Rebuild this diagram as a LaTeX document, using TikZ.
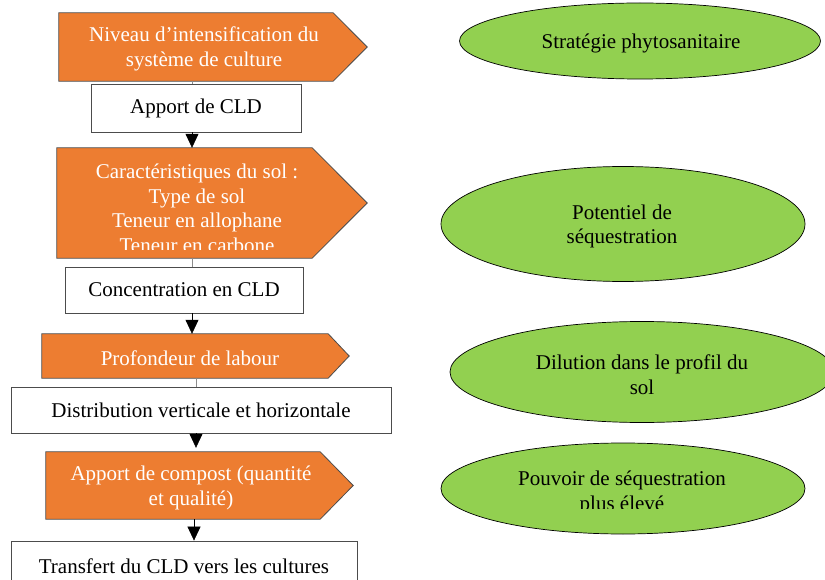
\documentclass[tikz,border=0pt]{standalone}
\usepackage{fontspec}
\setmainfont{Liberation Serif}
\usetikzlibrary{shapes.geometric,arrows.meta,calc}
\definecolor{orng}{HTML}{ED7D31}
\definecolor{grn}{HTML}{92D050}
\begin{document}
\begin{tikzpicture}[x=1pt,y=-1pt,
 txt/.style={font=\fontsize{21}{24.5}\selectfont, align=center, inner sep=0pt},
 wtxt/.style={txt, text=white},
 box/.style={draw=black!70, fill=white, line width=0.8pt, inner sep=0pt, font=\fontsize{21}{24.5}\selectfont},
 pent/.style={inner sep=0pt},
 pentshape/.style={draw=black!70, fill=orng, line width=0.8pt},
 ell/.style={ellipse, draw=black, fill=grn, line width=0.7pt, inner sep=0pt},
 link/.style={draw=black!45, line width=0.6pt},
 arr/.style={draw=black, line width=0.6pt, -{Triangle[length=14pt,width=13pt]}}
]
\clip (0,0) rectangle (825,580);
\fill[white] (0,0) rectangle (825,580);

% ---- pentagon 1
\node[pent, minimum width=274pt, minimum height=68pt] (p1) at (196,47) {};
\draw[pentshape] (p1.north west) -- (p1.north east) -- ($(p1.east)+(34,0)$) -- (p1.south east) -- (p1.south west) -- cycle;
\node[wtxt] (t1) at (204,49) {Niveau d’intensification du\\système de culture};

% ---- box 1
\node[box, minimum width=210pt, minimum height=48pt] (b1) at (196,108) {Apport de CLD};

% ---- pentagon 2
\node[pent, minimum width=255pt, minimum height=110pt] (p2) at (184.5,203) {};
\draw[pentshape] (p2.north west) -- (p2.north east) -- ($(p2.east)+(55,0)$) -- (p2.south east) -- (p2.south west) -- cycle;
\begin{scope}
\clip (57,148) rectangle (312,250);
\node[wtxt] (t2) at (197,208.5) {Caractéristiques du sol :\\Type de sol\\Teneur en allophane\\Teneur en carbone};
\end{scope}

% ---- box 2
\node[box, minimum width=238pt, minimum height=46pt] (b2) at (184,290) {Concentration en CLD};

% ---- pentagon 3
\node[pent, minimum width=286pt, minimum height=44pt] (p3) at (185,356) {};
\draw[pentshape] (p3.north west) -- (p3.north east) -- ($(p3.east)+(21,0)$) -- (p3.south east) -- (p3.south west) -- cycle;
\node[wtxt] (t3) at (190,358) {Profondeur de labour};

% ---- box 3
\node[box, minimum width=380pt, minimum height=46pt] (b3) at (201,410) {Distribution verticale et horizontale};

% ---- pentagon 4
\node[pent, minimum width=274pt, minimum height=67pt] (p4) at (183,485.5) {};
\draw[pentshape] (p4.north west) -- (p4.north east) -- ($(p4.east)+(33,0)$) -- (p4.south east) -- (p4.south west) -- cycle;
\node[wtxt] (t4) at (191,488) {Apport de compost (quantité\\et qualité)};

% ---- box 4
\node[box, minimum width=346pt, minimum height=50pt] (b4) at (184,566) {Transfert du CLD vers les cultures};

% ---- connectors
\draw[link] ([xshift=-4pt]p1.south) -- ([xshift=-4pt]p1.south |- b1.north);
\draw[arr] ([xshift=-4pt]b1.south) -- ([xshift=-4pt]b1.south |- p2.north);
\draw[link] ([xshift=7.5pt]p2.south) -- ([xshift=7.5pt]p2.south |- b2.north);
\draw[arr] ([xshift=8pt]b2.south) -- ([xshift=8pt]b2.south |- p3.north);
\draw[link] ([xshift=11pt]p3.south) -- ([xshift=11pt]p3.south |- b3.north);
\draw[arr, shorten >=4pt] ([xshift=-5pt]b3.south) -- ([xshift=-5pt]b3.south |- p4.north);
\draw[arr] ([xshift=11pt]p4.south) -- ([xshift=11pt]p4.south |- b4.north);

% ---- ellipses
\node[ell, minimum width=361pt, minimum height=76pt] (e1) at (640,41) {};
\node[txt] (te1) at (641,43) {Stratégie phytosanitaire};

\node[ell, minimum width=364pt, minimum height=115pt] (e2) at (623,224) {};
\node[txt] (te2) at (622,226.5) {Potentiel de\\séquestration};

\node[ell, minimum width=384pt, minimum height=101pt] (e3) at (642,372) {};
\node[txt] (te3) at (642,374.5) {Dilution dans le profil du\\sol};

\node[ell, minimum width=364pt, minimum height=91pt] (e4) at (623,488.5) {};
\begin{scope}
\clip (441,443) rectangle (805,508);
\node[txt] (te4) at (622,493) {Pouvoir de séquestration\\plus élevé};
\end{scope}
\end{tikzpicture}
\end{document}
